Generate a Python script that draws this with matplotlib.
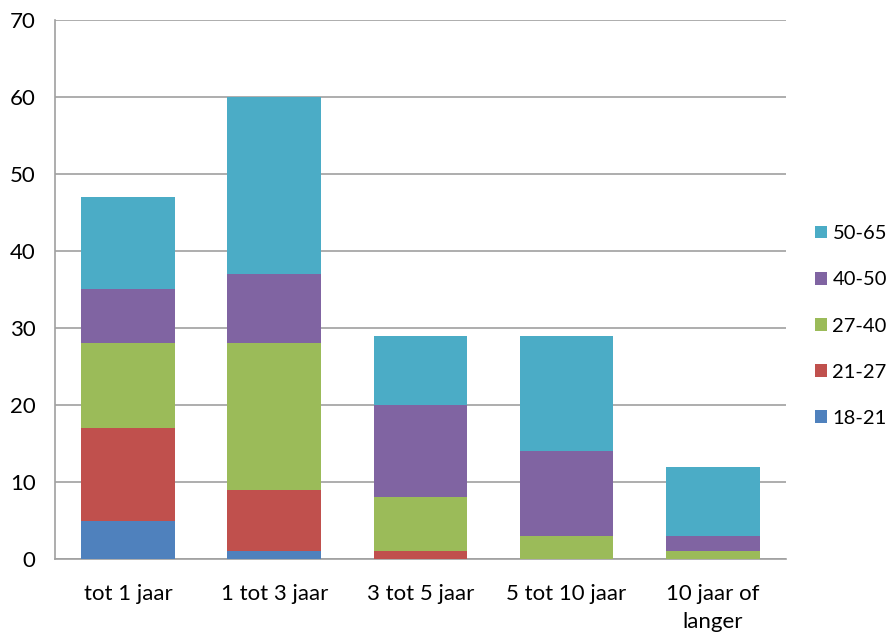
import matplotlib.pyplot as plt
import numpy as np

plt.rcParams['font.family'] = ['Lato', 'DejaVu Sans']

categories = ['tot 1 jaar', '1 tot 3 jaar', '3 tot 5 jaar', '5 tot 10 jaar', '10 jaar of\nlanger']
groups = ['18-21', '21-27', '27-40', '40-50', '50-65']
v_18_21 = [5, 1, 0, 0, 0]
v_21_27 = [12, 8, 1, 0, 0]
v_27_40 = [11, 19, 7, 3, 1]
v_40_50 = [7, 9, 12, 11, 2]
v_50_65 = [12, 23, 9, 15, 9]
colors = ['#4F81BD', '#C0504D', '#9BBB59', '#8064A2', '#4BACC6']


def main():
    series = [v_18_21, v_21_27, v_27_40, v_40_50, v_50_65]
    fig = plt.figure(figsize=(8.94, 6.38), dpi=100)
    ax = fig.add_axes([0.0615, 0.1238, 0.8175, 0.8449])
    x = np.arange(len(categories))
    bottom = np.zeros(len(categories))
    for vals, name, c in zip(series, groups, colors):
        ax.bar(x, vals, 0.64, bottom=bottom, color=c, label=name, zorder=3)
        bottom += np.array(vals)

    ax.set_xlim(-0.5, len(categories) - 0.5)
    ax.set_ylim(0, 70)
    ax.set_yticks(range(0, 71, 10))
    ax.set_xticks(x)
    ax.set_xticklabels(categories, fontsize=16, linespacing=1.5)
    ax.tick_params(axis='y', labelsize=16, length=0, pad=14)
    ax.tick_params(axis='x', length=0, pad=18)
    ax.yaxis.grid(True, color='#A0A0A0', linewidth=1.2, zorder=0)
    ax.spines['right'].set_visible(False)
    ax.spines['top'].set_visible(False)
    for s in ['left', 'bottom']:
        ax.spines[s].set_color('#A0A0A0')
        ax.spines[s].set_linewidth(1.2)

    h, l = ax.get_legend_handles_labels()
    fig.legend(h[::-1], l[::-1], loc='center left', bbox_to_anchor=(0.912, 0.489),
               frameon=False, fontsize=14.5, handlelength=0.6, handleheight=0.6,
               handletextpad=0.25, labelspacing=1.45, borderpad=0, borderaxespad=0)
    fig.savefig('out.png', dpi=100)


if __name__ == "__main__":
    main()
